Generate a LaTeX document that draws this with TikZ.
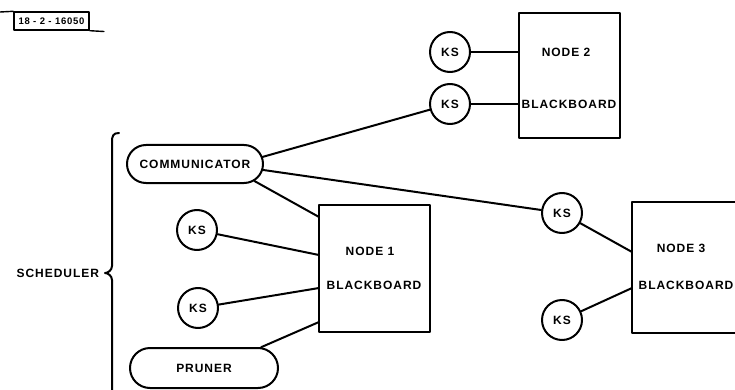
\documentclass[tikz,border=0pt]{standalone}
\usepackage{fontspec}
\usetikzlibrary{shapes.misc,calc}
\newfontfamily\lblfont[LetterSpace=8]{Liberation Sans}
\begin{document}
\begin{tikzpicture}[x=1pt,y=-1pt,
  line width=2pt, line cap=round, line join=round,
  every node/.style={font=\lblfont\bfseries\fontsize{12}{14}\selectfont, inner sep=0pt},
  ksnode/.style={circle, draw, minimum size=40pt},
  board/.style={rectangle, draw},
  pill/.style={rounded rectangle, draw, minimum height=38pt},
  tagbox/.style={rectangle, draw, line width=1.4pt, minimum width=75pt, minimum height=18pt,
    font=\lblfont\bfseries\fontsize{9.5}{11}\selectfont}]
\useasboundingbox (0,0) rectangle (735,390);
\clip (0,0) rectangle (735,390);

% drawing number tag
\node[tagbox] (tag) at (51.5,21) {18 - 2 - 16050};
\coordinate (tagl) at (0,12);
\coordinate (tagr) at (104,31.5);
\draw[line width=1.4pt] (tagl) -- (tag.north west);
\draw[line width=1.4pt] (tag.south east) -- (tagr);

% blackboards
\node[board, minimum width=111pt, minimum height=127pt] (n1) at (374.5,268.5) {};
\node[board, minimum width=101pt, minimum height=125pt] (n2) at (569.5,75.5) {};
\node[board, minimum width=110pt, minimum height=131pt] (n3) at (687,267.5) {};

\node (n1t) at (370,251) {NODE 1};
\node (n1b) at (374,285) {BLACKBOARD};
\node (n2t) at (566,52) {NODE 2};
\node (n2b) at (569,104) {BLACKBOARD};
\node (n3t) at (681,248) {NODE 3};
\node (n3b) at (686,285) {BLACKBOARD};

% knowledge sources
\node[ksnode] (ks2a) at (450,52) {KS};
\node[ksnode] (ks2b) at (450,104) {KS};
\node[ksnode] (ks1a) at (197,230) {KS};
\node[ksnode] (ks1b) at (198,308) {KS};
\node[ksnode] (ks3a) at (562,213) {KS};
\node[ksnode] (ks3b) at (562,320) {KS};

% scheduler components
\node[pill, minimum width=136pt] (comm) at (195,164) {COMMUNICATOR};
\node[pill, minimum width=148pt, minimum height=40pt] (prun) at (204,368) {PRUNER};

% attachment points on the blackboard edges
\coordinate (n1c) at (319,217);
\coordinate (n1k) at (319,255);
\coordinate (n1l) at (319,288);
\coordinate (n1p) at (319,322);
\coordinate (n3k) at (632,252);
\coordinate (n3l) at (632,288);

% connectors
\draw (ks2a) -- (ks2a -| n2.west);
\draw (ks2b) -- (ks2b -| n2.west);
\draw (comm.6) -- (ks2b);
\draw (comm.-5) -- (ks3a);
\draw (comm.-16) -- (n1c);
\draw (ks1a) -- (n1k);
\draw (ks1b) -- (n1l);
\draw (prun.20) -- (n1p);
\draw (ks3a) -- (n3k);
\draw (ks3b) -- (n3l);

% scheduler brace
\coordinate (bt) at (119,133);
\coordinate (bm) at (105,273);
\coordinate (bb) at (112,395);
\draw (bt) .. controls (113,133) and (112,136) .. (112,142)
  -- (112,266) .. controls (112,270) and (108,273) .. (bm)
  .. controls (108,273) and (112,276) .. (112,280) -- (bb);
\node[anchor=east] (sched) at (100,273) {SCHEDULER};
\end{tikzpicture}
\end{document}
